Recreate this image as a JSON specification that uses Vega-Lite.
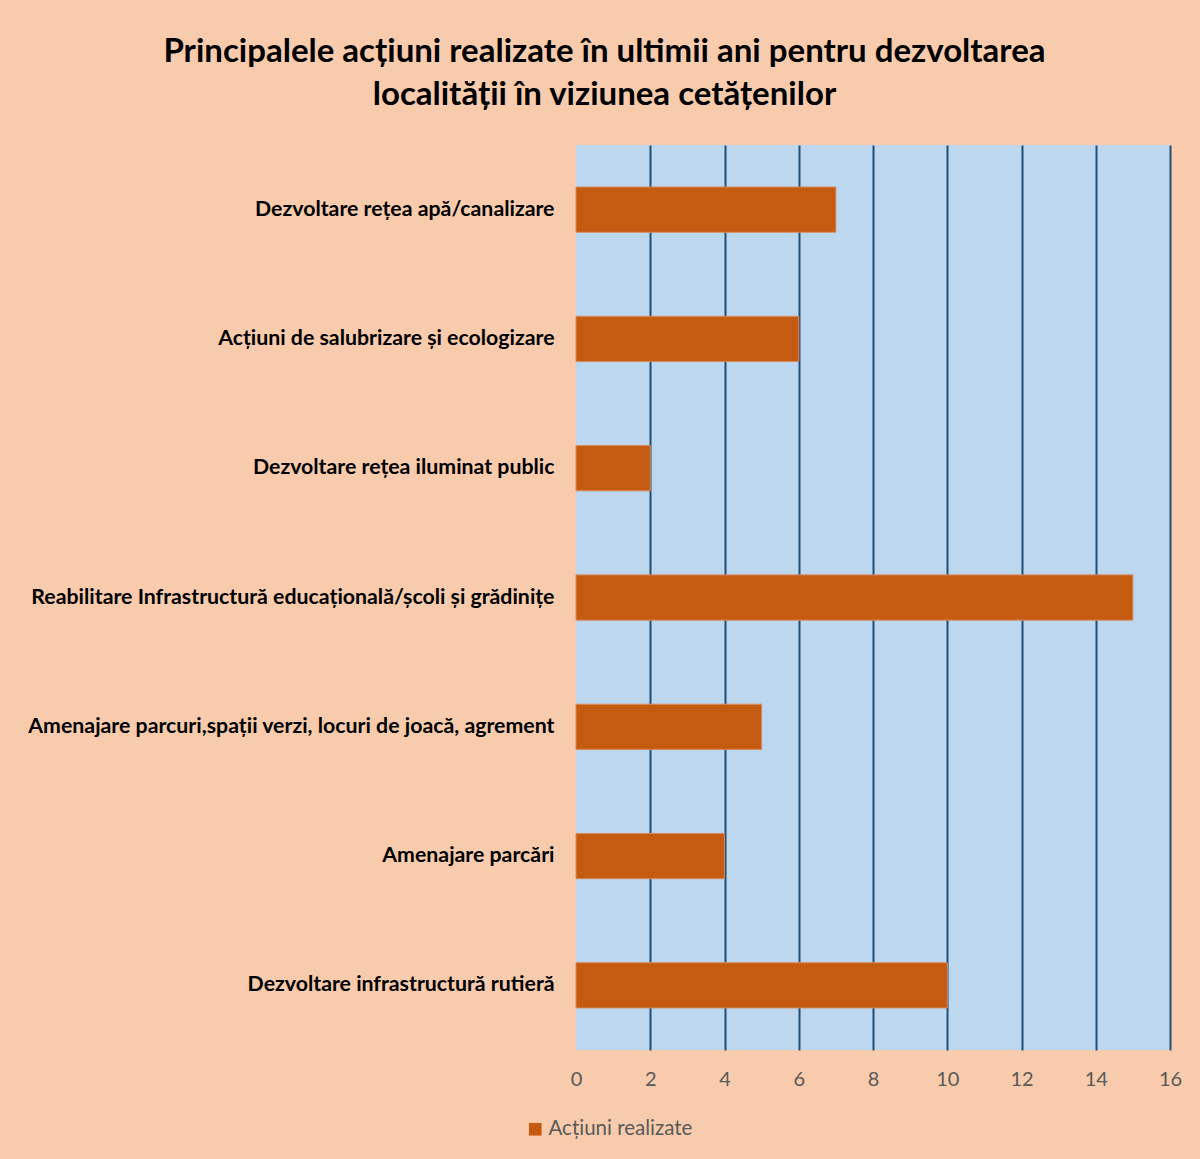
{
  "$schema": "https://vega.github.io/schema/vega-lite/v6.json",
  "width": 594,
  "height": 905,
  "autosize": {"type": "none"},
  "padding": {"left": 576, "top": 145, "right": 30, "bottom": 109},
  "background": "#F8CBAD",
  "title": {
    "text": ["Principalele acțiuni realizate în ultimii ani pentru dezvoltarea", "localității în viziunea cetățenilor"],
    "anchor": "middle",
    "frame": "bounds",
    "font": "Lato",
    "fontSize": 33,
    "fontWeight": "bold",
    "color": "#000000",
    "lineHeight": 43,
    "offset": 33
  },
  "config": {
    "view": {"fill": "#BDD7EE", "stroke": null},
    "font": "Lato"
  },
  "data": {
    "values": [
      {"actiune": "Dezvoltare rețea apă/canalizare", "valoare": 7, "serie": "Acțiuni realizate"},
      {"actiune": "Acțiuni de salubrizare și ecologizare", "valoare": 6, "serie": "Acțiuni realizate"},
      {"actiune": "Dezvoltare rețea iluminat public", "valoare": 2, "serie": "Acțiuni realizate"},
      {"actiune": "Reabilitare Infrastructură educațională/școli și grădinițe", "valoare": 15, "serie": "Acțiuni realizate"},
      {"actiune": "Amenajare parcuri,spații verzi, locuri de joacă, agrement", "valoare": 5, "serie": "Acțiuni realizate"},
      {"actiune": "Amenajare parcări", "valoare": 4, "serie": "Acțiuni realizate"},
      {"actiune": "Dezvoltare infrastructură rutieră", "valoare": 10, "serie": "Acțiuni realizate"}
    ]
  },
  "mark": {"type": "bar", "stroke": "#D98A5C", "strokeWidth": 1},
  "encoding": {
    "y": {
      "field": "actiune",
      "type": "nominal",
      "sort": null,
      "scale": {"paddingInner": 0.65, "paddingOuter": 0.325},
      "axis": {
        "title": null,
        "ticks": false,
        "domain": false,
        "labelPadding": 22,
        "labelLimit": 600,
        "labelFontSize": 21.3,
        "labelFontWeight": "bold",
        "labelColor": "#000000",
        "labelFont": "Lato"
      }
    },
    "x": {
      "field": "valoare",
      "type": "quantitative",
      "scale": {"domain": [0, 16], "nice": false},
      "axis": {
        "title": null,
        "values": [0, 2, 4, 6, 8, 10, 12, 14, 16],
        "ticks": false,
        "domain": false,
        "grid": true,
        "gridColor": {"condition": {"test": "datum.value === 0", "value": "transparent"}, "value": "#1F4E79"},
        "gridWidth": 2,
        "labelFlush": false,
        "labelPadding": 19,
        "labelFontSize": 20,
        "labelColor": "#595959",
        "labelFont": "Lato"
      }
    },
    "color": {
      "field": "serie",
      "type": "nominal",
      "scale": {"range": ["#C55A11"]},
      "legend": {
        "title": null,
        "orient": "none",
        "legendX": -51,
        "legendY": 974,
        "symbolType": "square",
        "symbolSize": 160,
        "symbolStrokeWidth": 0,
        "labelFontSize": 20.5,
        "labelColor": "#595959",
        "labelFont": "Lato",
        "labelOffset": 3
      }
    }
  }
}
